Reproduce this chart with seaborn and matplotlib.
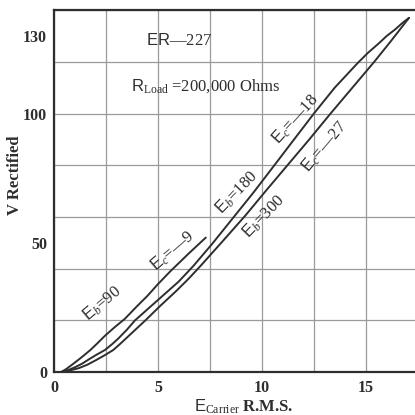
import pandas as pd
import seaborn as sns
import matplotlib.pyplot as plt
from matplotlib.ticker import MultipleLocator, FixedLocator

# curves: E carrier (rms) vs V rectified
e_eb90 = [0.35, 0.6, 0.9, 1.3, 1.75, 2.1, 2.45, 2.9, 3.4, 4.0, 4.5, 5.0, 5.6, 6.5, 7.3]
v_eb90 = [0, 1.2, 3, 5.5, 8.5, 11.2, 14, 17.2, 20.5, 25.5, 29.5, 34, 39, 46, 52]

e_eb180 = [0.35, 0.7, 1.0, 1.35, 1.7, 2.05, 2.45, 2.8, 3.1, 3.5, 3.9, 4.6, 5.3, 6.0,
           6.7, 7.6, 8.6, 9.6, 10.6, 11.5, 12.5, 13.5, 14.6, 15.1, 15.6, 16.0,
           16.4, 16.75, 17.07]
v_eb180 = [0, 0.8, 1.8, 3.2, 5, 6.7, 8.5, 10.8, 13, 16.3, 20, 25, 30, 35,
           41, 49.5, 59.5, 69.5, 80, 89.5, 100, 110, 119.5, 123.5, 127, 130,
           132.5, 135, 137]

e_eb300 = [0.35, 0.8, 1.2, 1.6, 2.0, 2.4, 2.85, 3.2, 3.6, 4.0, 4.4, 5.1, 5.9, 6.5,
           7.1, 8.1, 9.2, 10.2, 11.25, 12.3, 13.3, 14.35, 15.4, 16.2, 17.07]
v_eb300 = [0, 0.7, 1.5, 2.8, 4.5, 6.3, 8.5, 11, 14, 17, 20, 25.5, 31.5, 36.3,
           41.5, 50.5, 60.5, 70.2, 80.2, 90.2, 100, 110, 120, 128, 137]

x_ticks = [0, 5, 10, 15]
y_ticks = [0, 50, 100, 130]

ink = "#2e2e2e"
grid_col = "#9a9a9a"

df = pd.concat([
    pd.DataFrame({"E": e_eb90, "V": v_eb90, "curve": "Eb=90"}),
    pd.DataFrame({"E": e_eb180, "V": v_eb180, "curve": "Eb=180"}),
    pd.DataFrame({"E": e_eb300, "V": v_eb300, "curve": "Eb=300"}),
])

sns.set_style("white")
plt.rcParams["font.family"] = ["Liberation Serif", "DejaVu Serif"]
plt.rcParams["mathtext.fontset"] = "custom"
plt.rcParams["mathtext.rm"] = "Liberation Serif"
plt.rcParams["mathtext.it"] = "Liberation Serif:italic"
plt.rcParams["mathtext.sf"] = "Liberation Sans"

fig = plt.figure(figsize=(4.15, 4.15), dpi=100)
ax = fig.add_axes([0.130, 0.1036, 0.870, 0.872])

sns.lineplot(data=df, x="E", y="V", units="curve", estimator=None, sort=False,
             color=ink, lw=1.4, ax=ax)

ax.set_xlim(0, 17.36)
ax.set_ylim(0, 140)

ax.xaxis.set_major_locator(FixedLocator(x_ticks))
ax.yaxis.set_major_locator(FixedLocator(y_ticks))
ax.xaxis.set_minor_locator(MultipleLocator(2.5))
ax.yaxis.set_minor_locator(MultipleLocator(20))
ax.xaxis.remove_overlapping_locs = False
ax.yaxis.remove_overlapping_locs = False
ax.grid(False)
ax.grid(which="minor", color=grid_col, lw=0.9)
ax.tick_params(which="both", length=0)
ax.tick_params(axis="y", pad=5, labelsize=11.5, labelcolor=ink)
ax.tick_params(axis="x", pad=6, labelsize=11.5, labelcolor=ink)
for lab in ax.get_xticklabels() + ax.get_yticklabels():
    lab.set_fontweight("bold")

for side in ["left", "bottom", "top"]:
    ax.spines[side].set_color(ink)
    ax.spines[side].set_linewidth(1.6)
ax.spines["right"].set_visible(False)

ax.set_ylabel("V Rectified", fontsize=12, fontweight="bold", color=ink)
ax.yaxis.set_label_coords(-0.085, 0.545)
ax.set_xlabel(r"$\mathsf{E}_{\mathrm{Carrier}}$ R.M.S.", fontsize=12,
              fontweight="bold", color=ink)
ax.xaxis.set_label_coords(0.525, -0.072)

ax.text(6.0, 128, r"$\mathsf{ER}$—227", fontsize=12, color=ink,
        ha="center", va="center")
ax.text(3.7, 110.5, r"$\mathsf{R}_{\mathrm{Load}}$ =200,000 Ohms", fontsize=12,
        color=ink, ha="left", va="center")

labels = [
    (2.3, 26.6, r"$\mathsf{E}_{b}$=90", 40),
    (5.7, 47, r"$\mathsf{E}_{c}$=—9", 41),
    (8.8, 69.5, r"$\mathsf{E}_{b}$=180", 46),
    (11.6, 97.7, r"$\mathsf{E}_{c}$=—18", 48),
    (10.1, 60, r"$\mathsf{E}_{b}$=300", 46),
    (13.0, 87, r"$\mathsf{E}_{c}$=—27", 50),
]
for x, y, s, rot in labels:
    ax.text(x, y, s, fontsize=12, color=ink, rotation=rot,
            rotation_mode="anchor", ha="center", va="center")

fig.savefig("out.png", dpi=100)
